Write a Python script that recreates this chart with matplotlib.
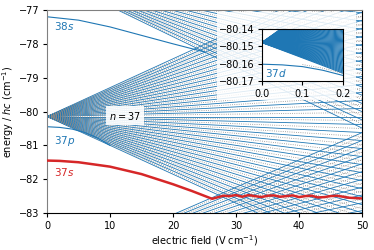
import numpy as np
import matplotlib
matplotlib.use("Agg")
import matplotlib.pyplot as plt
from matplotlib.patches import Rectangle

# hydrogenic Stark manifolds: n, zero-field energy, shift of outermost state per V/cm
manifold_n = [36, 37, 38]
manifold_E0 = [-84.66, -80.148, -75.99]
manifold_edge_slope = [0.0807, 0.0853, 0.0900]

# low-l states (field in V/cm, energy in cm^-1)
s38_F = [0, 5, 10, 15, 20, 25]
s38_E = [-77.20, -77.30, -77.50, -77.75, -78.00, -78.24]
p37_F = [0, 2, 4, 6, 8, 10]
p37_E = [-80.45, -80.47, -80.52, -80.62, -80.78, -81.00]
s37_F = [0, 2, 5, 10, 15, 20, 23, 26.2, 28, 29, 30, 31, 32, 33, 34, 35, 36, 37, 38,
         39, 40, 41, 42, 43, 44, 45, 46, 47, 48, 49, 50]
s37_E = [-81.45, -81.46, -81.50, -81.63, -81.85, -82.15, -82.35, -82.58, -82.49,
         -82.50, -82.47, -82.52, -82.47, -82.50, -82.53, -82.49, -82.48, -82.52,
         -82.50, -82.48, -82.53, -82.50, -82.49, -82.54, -82.53, -82.50, -82.49,
         -82.52, -82.55, -82.56, -82.57]

# inset (low field) values
inset_E0 = -80.1478
inset_top_end = -80.114
inset_bottom_end = -80.1655
inset_nlines = 80
d37_F = [0, 0.05, 0.1, 0.15, 0.2]
d37_E = [-80.1603, -80.1607, -80.1617, -80.1638, -80.1668]

blue = "#1f77b4"
red = "#d62728"
plt.rcParams["font.size"] = 7
plt.rcParams["xtick.major.size"] = 3
plt.rcParams["ytick.major.size"] = 3
plt.rcParams["xtick.major.pad"] = 2.5
plt.rcParams["ytick.major.pad"] = 2.5

fig = plt.figure(figsize=(3.74, 2.5), dpi=100)
ax = fig.add_axes([0.1257, 0.148, 0.8423, 0.812])

F = np.array([0, 50])
for n, E0, sl in zip(manifold_n, manifold_E0, manifold_edge_slope):
    for k in range(-(n - 1), n, 2):
        ax.plot(F, E0 + sl * k / (n - 1) * F, color=blue, lw=0.6)
    for k in range(-(n - 2), n - 1, 2):
        ax.plot(F, E0 + sl * k / (n - 1) * F, color="0.55", lw=0.6, ls=":")

ax.plot(s38_F, s38_E, color=blue, lw=0.8)
ax.plot(p37_F, p37_E, color=blue, lw=0.8)
ax.plot(s37_F, s37_E, color=red, lw=1.8, zorder=5)

ax.text(1.1, -77.47, "38$s$", color=blue, va="center", fontsize=7.5)
ax.text(1.1, -80.87, "37$p$", color=blue, va="center", fontsize=7.5)
ax.text(1.1, -81.79, "37$s$", color=red, va="center", fontsize=7.5)
ax.text(12.4, -80.13, "$n = 37$", ha="center", va="center",
        bbox=dict(facecolor="white", edgecolor="none", alpha=0.9, pad=2.5), zorder=6)

ax.set_xlim(0, 50)
ax.set_ylim(-83, -77)
ax.set_xlabel("electric field (V cm$^{-1}$)", labelpad=2)
ax.set_ylabel("energy / $hc$ (cm$^{-1}$)", labelpad=2)
for side in ["left", "top"]:
    ax.spines[side].set_color("0.5")

# translucent backing for the inset
fig.add_artist(Rectangle((0.580, 0.60), 0.372, 0.352, transform=fig.transFigure,
                         facecolor="white", edgecolor="none", alpha=0.85, zorder=1))

axin = fig.add_axes([0.7005, 0.676, 0.2166, 0.208], zorder=2)
Fi = np.array([0, 0.2])
ends = np.linspace(inset_bottom_end, inset_top_end, inset_nlines)
for e in ends:
    axin.plot(Fi, [inset_E0, e], color=blue, lw=0.8)
axin.plot(d37_F, d37_E, color=blue, lw=0.8)
axin.plot(d37_F[2:], np.array(d37_E[2:]) + 0.0012, color="0.55", lw=0.6, ls=":")
axin.text(0.007, -80.1655, "37$d$", color=blue, va="center", fontsize=7.5)
axin.set_xlim(0, 0.2)
axin.set_ylim(-80.17, -80.14)
axin.set_xticks([0, 0.1, 0.2])
axin.set_yticks([-80.17, -80.16, -80.15, -80.14])
axin.set_xticklabels(["0.0", "0.1", "0.2"])

fig.savefig("out.png", dpi=100)
